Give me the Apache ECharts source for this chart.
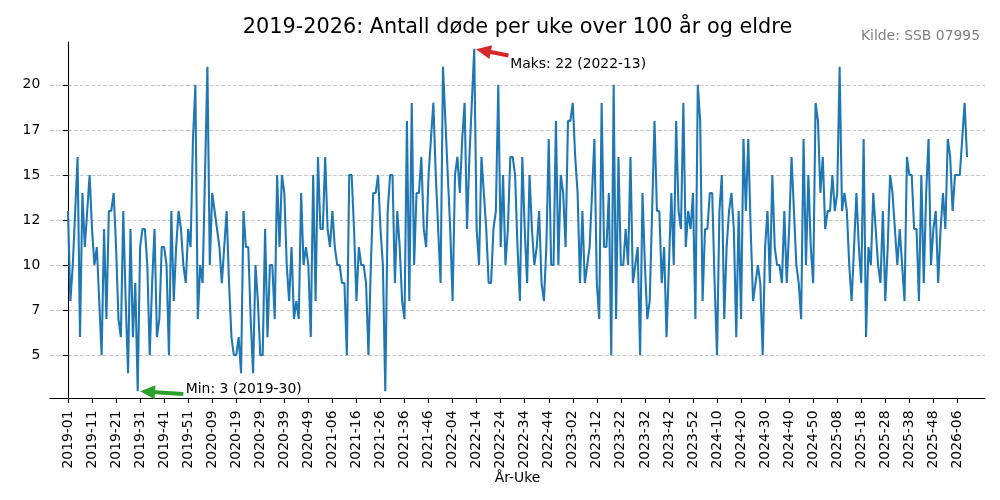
<!DOCTYPE html>
<html><head><meta charset="utf-8">
<script src="https://cdn.jsdelivr.net/npm/echarts@6/dist/echarts.min.js"></script>
<style>html,body{margin:0;padding:0;background:#fff}#c{width:1000px;height:500px}</style>
</head><body><div id="c"></div>
<script>
const chartTitle = '2019-2026: Antall døde per uke over 100 år og eldre';
const sourceText = 'Kilde: SSB 07995';
const xAxisName = 'År-Uke';
// ISO weeks per year in the series
const yearWeeks = [[2019, 52], [2020, 53], [2021, 52], [2022, 52], [2023, 52], [2024, 52], [2025, 52], [2026, 10]];
// deaths per week, age 100+
const deaths2019 = [13,8,10,13,16,6,14,11,13,15,12,10,11,8,5,12,7,13,13,14,11,7,6,13,8,4,12,6,9,3,11,12,12,10,5,9,12,6,7,11,11,10,5,13,8,11,13,12,10,9,12,11];
const deaths2020 = [17,20,7,10,9,15,21,10,14,13,12,11,9,11,13,9,6,5,5,6,4,13,11,11,7,4,10,8,5,5,12,6,10,10,7,15,11,15,14,10,8,11,7,8,7,14,10,11,10,6,15,8,16];
const deaths2021 = [12,12,16,12,11,13,11,10,10,9,9,5,15,15,12,8,11,10,10,9,5,10,14,14,15,12,10,3,13,15,15,9,13,11,8,7,18,8,19,10,14,14,16,12,11,15,17,19,15,12,9,21];
const deaths2022 = [18,15,12,8,15,16,14,17,19,12,16,19,22,12,10,16,14,12,9,9,12,13,20,11,15,10,12,16,16,15,11,8,16,12,9,15,12,10,11,13,9,8,11,17,10,10,18,10,15,14,11,18];
const deaths2023 = [18,19,16,14,9,13,9,10,11,14,17,9,7,19,11,11,14,5,20,7,16,10,10,12,10,16,9,10,11,5,14,10,7,8,13,18,13,13,9,11,6,10,14,10,18,13,12,19,11,13,12,14];
const deaths2024 = [7,20,18,8,12,12,14,14,9,5,13,15,7,11,13,14,12,6,13,7,17,13,17,12,8,9,10,9,5,11,13,9,15,11,10,10,9,13,9,12,16,13,10,9,7,17,10,15,11,9,19,18];
const deaths2025 = [14,16,12,13,13,15,13,14,21,13,14,13,10,8,11,14,11,9,17,6,11,10,14,12,10,9,13,8,11,15,14,12,10,12,10,8,16,15,15,12,12,8,15,9,14,17,10,12,13,9,12,14];
const deaths2026 = [12,17,16,13,15,15,15,17,19,16];
const yTickValues = [5, 7.5, 10, 12.5, 15, 17.5, 20];
const xTickStep = 10;

const weeks = [];
yearWeeks.forEach(([y, n]) => { for (let w = 1; w <= n; w++) weeks.push(y + '-' + String(w).padStart(2, '0')); });
const values = [].concat(deaths2019, deaths2020, deaths2021, deaths2022, deaths2023, deaths2024, deaths2025, deaths2026);
const xTickValues = weeks.map((_, i) => i).filter(i => i % xTickStep === 0);

const FONT = 'DejaVu Sans';
const n = values.length;
const xPad = 0.02 * (n - 1);
const vmax = Math.max(...values), vmin = Math.min(...values);
const yPad = 0.02 * (vmax - vmin);
const maxIdx = values.indexOf(vmax), minIdx = values.indexOf(vmin);

const chart = echarts.init(document.getElementById('c'), null, {renderer: 'canvas', width: 1000, height: 500});
const axisLineStyle = {color: '#000', width: 1.1};
chart.setOption({
  animation: false,
  backgroundColor: '#fff',
  grid: {left: 50, right: 15, top: 42, bottom: 102, containLabel: false},
  xAxis: {
    type: 'value', min: -xPad, max: n - 1 + xPad,
    axisLine: {show: true, onZero: false, lineStyle: axisLineStyle},
    axisTick: {show: true, length: 4.9, lineStyle: axisLineStyle, customValues: xTickValues},
    axisLabel: {customValues: xTickValues, rotate: 90, margin: 12.5, fontFamily: FONT, fontSize: 13.9, color: '#000',
      formatter: v => weeks[Math.round(v)] || ''},
    splitLine: {show: false},
    name: xAxisName, nameLocation: 'middle', nameGap: 73, nameMoveOverlap: false,
    nameTextStyle: {fontFamily: FONT, fontSize: 13.9, color: '#000'}
  },
  yAxis: {
    type: 'value', min: vmin - yPad, max: vmax + yPad,
    axisLine: {show: true, lineStyle: axisLineStyle},
    axisTick: {show: true, length: 4.9, lineStyle: axisLineStyle, customValues: yTickValues},
    axisLabel: {customValues: yTickValues, margin: 9.7, fontFamily: FONT, fontSize: 13.9, color: '#000',
      formatter: v => String(Math.floor(v))},
    splitLine: {show: true, lineStyle: {color: '#b0b0b0', opacity: 0.7, width: 1.1, type: [4.1, 1.8]}}
  },
  series: [{
    type: 'line', data: values.map((v, i) => [i, v]), showSymbol: false, symbol: 'none', silent: true, z: 3,
    lineStyle: {color: '#1f77b4', width: 2.08}, itemStyle: {color: '#1f77b4'}
  }]
});

function arrowPoly(S, T, ws, wh, hl) {
  const dx = T[0] - S[0], dy = T[1] - S[1], L = Math.hypot(dx, dy);
  const ux = dx / L, uy = dy / L, nx = -uy, ny = ux;
  const B = [T[0] - ux * hl, T[1] - uy * hl];
  return [
    [S[0] + nx * ws / 2, S[1] + ny * ws / 2], [B[0] + nx * ws / 2, B[1] + ny * ws / 2],
    [B[0] + nx * wh / 2, B[1] + ny * wh / 2], [T[0], T[1]],
    [B[0] - nx * wh / 2, B[1] - ny * wh / 2], [B[0] - nx * ws / 2, B[1] - ny * ws / 2],
    [S[0] - nx * ws / 2, S[1] - ny * ws / 2]
  ];
}
const px = p => chart.convertToPixel({gridIndex: 0}, p);
const maxText = px([maxIdx + 15, vmax - 1]);
const minText = px([minIdx + 20, vmin]);
const maxPt = px([maxIdx, vmax]);
const minPt = px([minIdx, vmin]);
function shrink(S, T, f) { return [[S[0] + (T[0] - S[0]) * f, S[1] + (T[1] - S[1]) * f], [T[0] - (T[0] - S[0]) * f, T[1] - (T[1] - S[1]) * f]]; }
const maxArrow = shrink([maxText[0], maxText[1] - 11], maxPt, 0.05);
const minArrow = shrink([minText[0], minText[1] + 3], minPt, 0.05);

chart.setOption({
  graphic: [
    {type: 'text', x: 517.5, y: 28, style: {text: chartTitle, font: '20.8px "DejaVu Sans"', fill: '#000', align: 'center', verticalAlign: 'middle'}},
    {type: 'text', x: 980, y: 36.5, style: {text: sourceText, font: '13.9px "DejaVu Sans"', fill: '#808080', align: 'right', verticalAlign: 'middle'}},
    {type: 'polygon', shape: {points: arrowPoly(maxArrow[0], maxArrow[1], 4, 14, 15)}, style: {fill: '#d62728'}, z: 10},
    {type: 'polygon', shape: {points: arrowPoly(minArrow[0], minArrow[1], 4, 14, 15)}, style: {fill: '#2ca02c'}, z: 10},
    {type: 'text', x: maxText[0], y: maxText[1] - 2, style: {text: 'Maks: ' + vmax + ' (' + weeks[maxIdx] + ')', font: '13.9px "DejaVu Sans"', fill: '#000', align: 'left', verticalAlign: 'middle'}, z: 10},
    {type: 'text', x: minText[0], y: minText[1] - 2, style: {text: 'Min: ' + vmin + ' (' + weeks[minIdx] + ')', font: '13.9px "DejaVu Sans"', fill: '#000', align: 'left', verticalAlign: 'middle'}, z: 10}
  ]
});
</script>
</body></html>
